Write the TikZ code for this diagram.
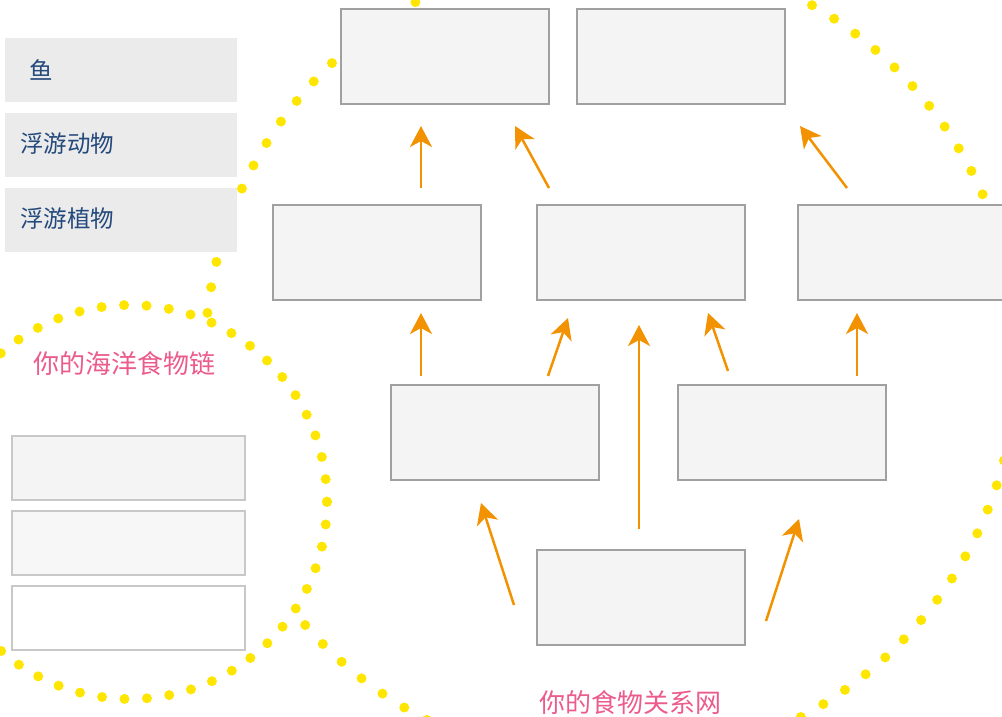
\documentclass[tikz,border=0pt]{standalone}
\usepackage{fontspec}
\newfontfamily\cjk{Noto Sans CJK SC}
\usetikzlibrary{arrows.meta}
\definecolor{dotyellow}{HTML}{FFE600}
\definecolor{pinktxt}{HTML}{EC5B8D}
\definecolor{bluetxt}{HTML}{24497C}
\definecolor{boxfill}{HTML}{F4F4F4}
\definecolor{boxline}{HTML}{A0A0A0}
\definecolor{bankfill}{HTML}{EBEBEB}
\definecolor{chainline}{HTML}{C8C8C8}
\definecolor{arroworange}{HTML}{F39200}
\tikzset{
  dotring/.style={draw=dotyellow, line width=10pt, line cap=round, dash pattern=on 0pt off #1},
  webbox/.style={draw=boxline, fill=boxfill, line width=2pt, minimum width=208pt, minimum height=95pt, inner sep=0pt, outer sep=0pt},
  bankbox/.style={fill=bankfill, minimum width=232pt, minimum height=64pt, inner sep=0pt, outer sep=0pt},
  chainbox/.style={draw=chainline, line width=2pt, minimum width=233pt, minimum height=64pt, inner sep=0pt, outer sep=0pt},
  banktext/.style={text=bluetxt, font=\cjk\fontsize{23.5}{23.5}\selectfont, anchor=west, inner sep=0pt},
  pinklabel/.style={text=pinktxt, font=\cjk\fontsize{26}{26}\selectfont, inner sep=0pt},
  feed/.style={draw=arroworange, line width=2.5pt, -{Stealth[length=21pt, width=22pt, inset=6pt]}}
}
\begin{document}
\begin{tikzpicture}[x=1pt,y=-1pt]
\useasboundingbox (0,0) rectangle (1002,716);
% dotted rings
\draw[dotring=25.9pt] (611,358) circle[radius=406];
\fill[white] (130,502) circle[radius=197];
\draw[dotring=22.5pt] (130,502) circle[radius=197];
% word bank
\node[bankbox] (bank1) at (121,70) {};
\node[bankbox] (bank2) at (121,145) {};
\node[bankbox] (bank3) at (121,220) {};
\node[banktext] (t1) at (29,70) {鱼};
\node[banktext] (t2) at (20,144) {浮游动物};
\node[banktext] (t3) at (20,219) {浮游植物};
% food chain
\node[pinklabel] (chainlabel) at (125,364) {你的海洋食物链};
\node[chainbox, fill=boxfill] (c1) at (128.5,468) {};
\node[chainbox, fill=white!97!black] (c2) at (128.5,543) {};
\node[chainbox, fill=white] (c3) at (128.5,618) {};
% food web
\node[webbox] (w1) at (445,56.5) {};
\node[webbox] (w2) at (681,56.5) {};
\node[webbox] (m1) at (377,252.5) {};
\node[webbox] (m2) at (641,252.5) {};
\node[webbox] (m3) at (902,252.5) {};
\node[webbox] (l1) at (495,432.5) {};
\node[webbox] (l2) at (782,432.5) {};
\node[webbox] (b1) at (641,597.5) {};
\node[pinklabel] (weblabel) at (630,703) {你的食物关系网};
% arrow ends
\coordinate (a1s) at (421,188); \coordinate (a1e) at (421,126);
\coordinate (a2s) at (549,188); \coordinate (a2e) at (515,126);
\coordinate (a3s) at (847,188); \coordinate (a3e) at (800,126);
\coordinate (a4s) at (421,376); \coordinate (a4e) at (421,313);
\coordinate (a5s) at (548,376); \coordinate (a5e) at (568,318);
\coordinate (a6s) at (639,529); \coordinate (a6e) at (639,325);
\coordinate (a7s) at (728,371); \coordinate (a7e) at (708,313);
\coordinate (a8s) at (857,376); \coordinate (a8e) at (857,313);
\coordinate (a9s) at (514,605); \coordinate (a9e) at (481,503);
\coordinate (a10s) at (766,621); \coordinate (a10e) at (799,519);
\foreach \i in {1,...,10} {\draw[feed] (a\i s) -- (a\i e);}
\end{tikzpicture}
\end{document}
